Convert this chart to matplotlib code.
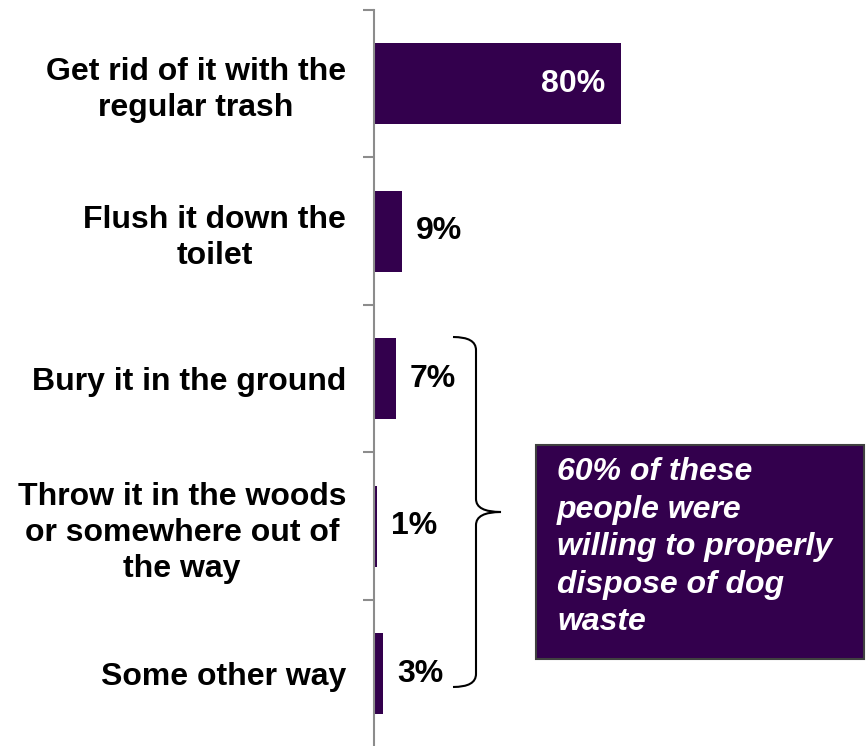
import matplotlib
matplotlib.use("Agg")
import matplotlib.pyplot as plt
from matplotlib.path import Path
from matplotlib.patches import PathPatch, Rectangle
from matplotlib.transforms import Affine2D

categories = [
    "Get rid of it with the\nregular trash",
    "Flush it down the\ntoilet",
    "Bury it in the ground",
    "Throw it in the woods\nor somewhere out of\nthe way",
    "Some other way",
]
values = [80, 9, 7, 1, 3]
value_labels = ["80%", "9%", "7%", "1%", "3%"]
callout = "60% of these\npeople were\nwilling to properly\ndispose of dog\nwaste"

BAR = "#33004D"
W, H = 867, 746
plt.rcParams["font.family"] = ["Liberation Sans", "DejaVu Sans"]

fig = plt.figure(figsize=(W / 100, H / 100), dpi=100)
ax = fig.add_axes([374 / W, 0, (W - 374) / W, (H - 10) / H])

ypos = list(range(len(categories)))
ax.barh(ypos, values, height=0.55, color=BAR)
ax.set_xlim(0, 160)
ax.set_ylim(4.49, -0.5)

for y, v, lab in zip(ypos, values, value_labels):
    if v >= 40:
        ax.annotate(lab, (v, y), xytext=(-11, 0), textcoords="offset points",
                    ha="right", va="center", color="white",
                    fontsize=23, fontweight="bold")
    else:
        ax.annotate(lab, (v, y), xytext=(10, 0), textcoords="offset points",
                    ha="left", va="center", color="black",
                    fontsize=23, fontweight="bold")

# category separators as major ticks, labels on minor ticks
ax.set_yticks([-0.5, 0.5, 1.5, 2.5, 3.5])
ax.set_yticklabels([])
ax.set_yticks(ypos, minor=True)
ax.set_yticklabels(categories, minor=True, fontsize=23, fontweight="bold",
                   linespacing=1.27, ha="right", multialignment="center")
ax.tick_params(axis="y", which="major", length=8, width=1.5, color="#8C8C8C",
               direction="out")
ax.tick_params(axis="y", which="minor", length=0, pad=20)

for s in ["top", "right", "bottom"]:
    ax.spines[s].set_visible(False)
ax.spines["left"].set_color("#8C8C8C")
ax.spines["left"].set_linewidth(1.5)
ax.set_xticks([])

# pixel-based transform for annotations (origin at top-left)
px = Affine2D().scale(1 / W, -1 / H).translate(0, 1) + fig.transFigure

# curly brace grouping the last three answers
verts = [
    (453, 337), (476, 337), (476, 350),
    (476, 499),
    (476, 512), (501, 512),
    (476, 512), (476, 525),
    (476, 674),
    (476, 687), (453, 687),
]
codes = [Path.MOVETO, Path.CURVE3, Path.CURVE3,
         Path.LINETO,
         Path.CURVE3, Path.CURVE3,
         Path.CURVE3, Path.CURVE3,
         Path.LINETO,
         Path.CURVE3, Path.CURVE3]
fig.add_artist(PathPatch(Path(verts, codes), transform=px, fill=False,
                         edgecolor="black", linewidth=1.5))

# callout box
fig.add_artist(Rectangle((536, 445), 328, 214, transform=px, facecolor=BAR,
                         edgecolor="#404040", linewidth=1.5))
fig.text(557 / W, 1 - 457 / H, callout, color="white", fontsize=23,
         fontweight="bold", fontstyle="italic", ha="left", va="top",
         linespacing=1.33)

fig.savefig("out.png", dpi=100)
